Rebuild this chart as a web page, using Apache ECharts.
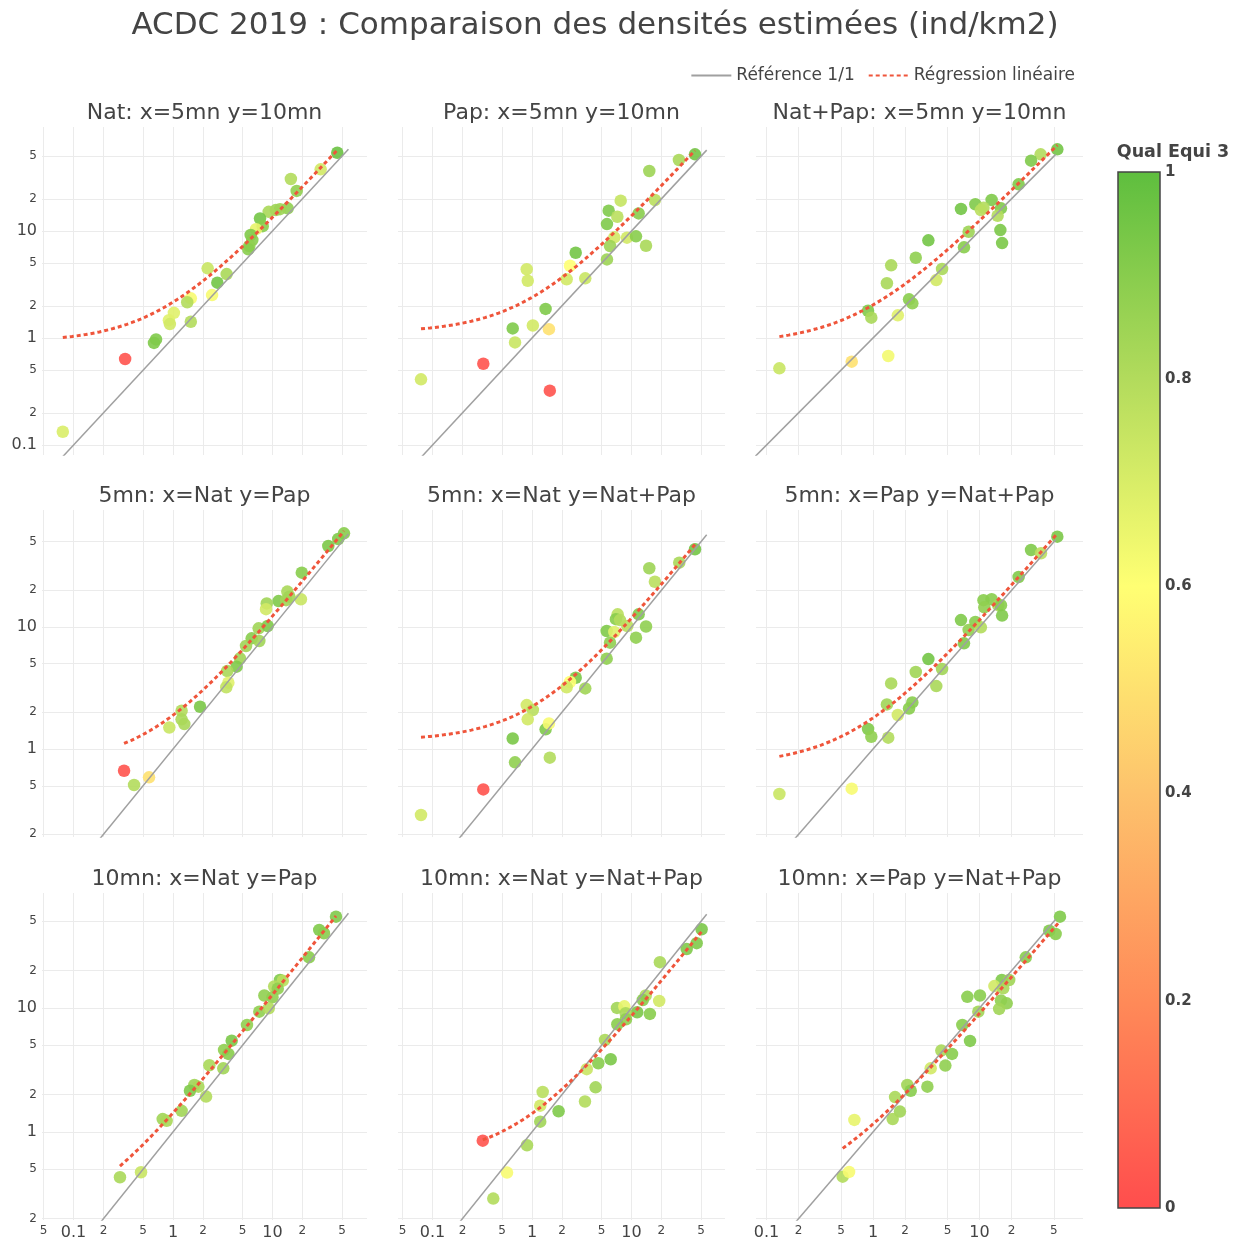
<!DOCTYPE html>
<html>
<head>
<meta charset="utf-8">
<script src="https://cdn.jsdelivr.net/npm/echarts@6/dist/echarts.min.js"></script>
<style>
  html, body { margin: 0; padding: 0; background: #fff; }
  #chart { width: 1243px; height: 1244px; }
</style>
</head>
<body>
<div id="chart"></div>
<script>
// ---- Data: estimated densities (ind/km2) and quality index per site ----

// Row 1: 5mn vs 10mn
const natX = [44.8, 30.5, 15.3, 17.5, 14.2, 11.9, 10.8, 9.16, 7.49, 7.97, 6.83, 6.04, 6.27, 5.85, 5.71, 2.23, 3.46, 2.79, 2.47, 1.51, 1.39, 1.02, 0.91, 0.93, 1.51, 0.675, 0.644, 0.33, 0.078];
const natY = [53.9, 37.7, 30.6, 23.7, 16.3, 16.0, 15.7, 15.1, 13.1, 11.1, 10.4, 9.18, 8.24, 7.24, 6.75, 4.48, 3.96, 3.29, 2.52, 2.35, 2.16, 1.72, 1.47, 1.35, 1.42, 0.97, 0.90, 0.637, 0.133];
const natQ = [0.97, 0.72, 0.80, 0.88, 0.88, 0.85, 0.85, 0.82, 0.95, 0.90, 0.66, 0.92, 0.90, 0.88, 0.90, 0.74, 0.82, 0.95, 0.62, 0.62, 0.80, 0.68, 0.68, 0.72, 0.80, 0.92, 0.92, 0.02, 0.70];

const papX = [43.5, 30.0, 15.1, 7.79, 17.2, 5.90, 7.21, 11.8, 5.67, 6.72, 9.01, 11.1, 14.0, 6.08, 5.67, 2.75, 2.41, 2.23, 3.43, 0.885, 0.906, 1.37, 1.02, 0.64, 1.48, 0.675, 0.324, 1.51, 0.0766];
const papY = [52.1, 46.1, 36.4, 19.2, 19.5, 15.5, 13.6, 14.6, 11.6, 8.73, 8.66, 8.92, 7.29, 7.24, 5.43, 6.27, 4.74, 3.54, 3.61, 4.39, 3.43, 1.87, 1.31, 1.23, 1.21, 0.91, 0.575, 0.322, 0.411];
const papQ = [0.95, 0.82, 0.85, 0.75, 0.78, 0.92, 0.78, 0.90, 0.92, 0.72, 0.72, 0.90, 0.82, 0.85, 0.85, 0.95, 0.60, 0.72, 0.74, 0.72, 0.72, 0.92, 0.72, 0.92, 0.50, 0.74, 0.02, 0.02, 0.72];

const bothX = [53.8, 37.5, 30.5, 23.3, 13.0, 9.14, 10.9, 10.3, 15.9, 14.8, 6.70, 7.91, 15.7, 16.3, 7.15, 3.31, 2.52, 1.48, 4.45, 1.35, 3.93, 2.18, 2.34, 0.898, 0.964, 1.71, 0.631, 1.39, 0.132];
const bothY = [58.0, 52.1, 45.4, 27.3, 19.5, 17.8, 16.5, 15.7, 16.3, 13.9, 16.1, 9.85, 10.2, 7.72, 7.04, 8.19, 5.63, 4.78, 4.42, 3.25, 3.48, 2.30, 2.11, 1.80, 1.55, 1.63, 0.601, 0.679, 0.521];
const bothQ = [0.95, 0.80, 0.92, 0.92, 0.92, 0.92, 0.80, 0.78, 0.92, 0.80, 0.95, 0.85, 0.93, 0.93, 0.90, 0.95, 0.88, 0.82, 0.82, 0.82, 0.72, 0.90, 0.88, 0.92, 0.82, 0.68, 0.50, 0.63, 0.74];

// Row 2: 5mn, protocols compared
const m5NatPapX = [52.3, 45.8, 36.4, 19.7, 19.3, 14.1, 14.8, 11.5, 13.7, 8.75, 8.61, 7.26, 8.94, 6.18, 7.37, 5.42, 4.71, 4.36, 3.51, 3.60, 3.43, 1.87, 1.22, 1.22, 1.30, 0.918, 0.322, 0.574, 0.406];
const m5NatPapY = [58.6, 52.6, 46.1, 27.9, 16.9, 19.5, 17.7, 16.3, 16.6, 15.6, 14.0, 9.75, 10.2, 8.08, 7.68, 6.99, 5.54, 4.73, 4.36, 3.50, 3.21, 2.22, 2.06, 1.75, 1.60, 1.50, 0.664, 0.586, 0.507];
const m5NatPapQ = [0.90, 0.92, 0.93, 0.90, 0.74, 0.82, 0.84, 0.92, 0.84, 0.84, 0.72, 0.84, 0.92, 0.90, 0.84, 0.84, 0.84, 0.92, 0.82, 0.68, 0.76, 0.93, 0.80, 0.82, 0.82, 0.74, 0.02, 0.50, 0.80];

const m5NatBothX = [43.5, 30.2, 15.1, 17.2, 11.8, 7.26, 6.98, 7.66, 9.08, 14.0, 5.63, 6.72, 11.1, 6.08, 5.63, 2.75, 2.41, 2.23, 3.43, 0.885, 1.02, 0.906, 1.37, 1.48, 0.64, 0.675, 1.51, 0.324, 0.0766];
const m5NatBothY = [43.4, 33.7, 30.3, 23.5, 12.7, 12.7, 11.6, 11.4, 10.2, 10.1, 9.27, 9.10, 8.18, 7.44, 5.50, 3.84, 3.54, 3.21, 3.14, 2.29, 2.09, 1.75, 1.45, 1.62, 1.22, 0.778, 0.849, 0.467, 0.288];
const m5NatBothQ = [0.95, 0.82, 0.85, 0.78, 0.92, 0.78, 0.90, 0.80, 0.78, 0.88, 0.92, 0.68, 0.88, 0.88, 0.88, 0.93, 0.60, 0.72, 0.84, 0.72, 0.78, 0.72, 0.92, 0.62, 0.93, 0.88, 0.80, 0.02, 0.72];

const m5PapBothX = [53.8, 30.5, 37.8, 23.3, 10.9, 13.0, 11.1, 15.0, 15.9, 16.3, 6.70, 9.14, 7.91, 10.3, 7.15, 3.31, 2.52, 4.45, 3.93, 1.48, 1.35, 2.34, 2.18, 1.71, 0.898, 0.964, 1.39, 0.631, 0.132];
const m5PapBothY = [55.0, 42.8, 40.2, 25.7, 16.6, 16.9, 14.5, 15.1, 15.1, 12.4, 11.4, 11.0, 9.45, 9.94, 7.35, 5.46, 4.28, 4.53, 3.28, 3.45, 2.32, 2.41, 2.15, 1.90, 1.46, 1.26, 1.24, 0.473, 0.428];
const m5PapBothQ = [0.93, 0.92, 0.78, 0.92, 0.90, 0.90, 0.88, 0.82, 0.90, 0.92, 0.92, 0.90, 0.88, 0.80, 0.92, 0.95, 0.84, 0.84, 0.82, 0.82, 0.84, 0.90, 0.90, 0.72, 0.92, 0.88, 0.80, 0.62, 0.74];

// Row 3: 10mn, protocols compared
const m10NatPapX = [43.5, 29.5, 32.9, 23.3, 11.9, 12.7, 10.4, 10.0, 8.28, 7.37, 9.16, 5.54, 3.89, 3.26, 3.60, 3.20, 2.32, 1.64, 1.80, 1.48, 2.15, 1.22, 0.787, 0.863, 0.477, 0.293, 11.3];
const m10NatPapY = [54.5, 42.6, 40.0, 25.6, 16.8, 16.6, 14.9, 12.2, 12.6, 9.34, 9.94, 7.29, 5.45, 4.59, 4.26, 3.26, 3.45, 2.39, 2.32, 2.15, 1.93, 1.48, 1.27, 1.23, 0.473, 0.431, 14.3];
const m10NatPapQ = [0.92, 0.92, 0.90, 0.90, 0.92, 0.78, 0.80, 0.88, 0.88, 0.88, 0.80, 0.88, 0.93, 0.88, 0.90, 0.84, 0.82, 0.84, 0.82, 0.92, 0.80, 0.84, 0.84, 0.82, 0.74, 0.82, 0.88];

const m10NatBothX = [50.7, 45.2, 35.9, 19.3, 19.0, 13.9, 13.0, 15.3, 11.4, 7.15, 8.47, 8.75, 8.81, 7.21, 5.42, 6.18, 4.64, 3.55, 4.36, 3.41, 1.28, 1.21, 1.85, 1.21, 0.891, 0.320, 0.561, 0.408];
const m10NatBothY = [43.1, 33.3, 29.9, 23.4, 11.4, 12.6, 11.6, 8.95, 9.23, 10.0, 10.3, 9.06, 8.11, 7.39, 5.52, 3.86, 3.58, 3.21, 2.29, 1.76, 2.10, 1.63, 1.47, 1.21, 0.781, 0.851, 0.470, 0.290];
const m10NatBothQ = [0.93, 0.92, 0.92, 0.82, 0.72, 0.80, 0.90, 0.90, 0.93, 0.84, 0.66, 0.82, 0.88, 0.90, 0.82, 0.93, 0.90, 0.74, 0.84, 0.80, 0.78, 0.72, 0.92, 0.84, 0.82, 0.02, 0.62, 0.80];

const m10PapBothX = [57.0, 45.2, 51.9, 27.2, 16.2, 19.0, 13.8, 16.7, 7.69, 10.1, 15.9, 18.0, 15.3, 9.75, 6.90, 8.15, 4.38, 5.52, 4.78, 3.48, 2.10, 2.26, 3.24, 1.61, 1.79, 1.53, 0.668, 0.519, 0.596];
const m10PapBothY = [54.5, 42.0, 39.5, 25.6, 16.8, 16.8, 15.0, 14.4, 12.3, 12.6, 11.5, 10.9, 9.82, 9.34, 7.29, 5.42, 4.53, 4.26, 3.43, 3.26, 2.39, 2.15, 2.32, 1.91, 1.46, 1.27, 1.25, 0.436, 0.476];
const m10PapBothQ = [0.92, 0.92, 0.90, 0.90, 0.92, 0.84, 0.72, 0.82, 0.90, 0.90, 0.88, 0.88, 0.84, 0.84, 0.90, 0.92, 0.82, 0.90, 0.88, 0.72, 0.84, 0.90, 0.88, 0.82, 0.84, 0.82, 0.66, 0.80, 0.62];

// Panel titles, row by row
const panelTitles = [
  'Nat: x=5mn y=10mn', 'Pap: x=5mn y=10mn', 'Nat+Pap: x=5mn y=10mn',
  '5mn: x=Nat y=Pap', '5mn: x=Nat y=Nat+Pap', '5mn: x=Pap y=Nat+Pap',
  '10mn: x=Nat y=Pap', '10mn: x=Nat y=Nat+Pap', '10mn: x=Pap y=Nat+Pap'
];
// Upper end of the 1:1 reference line in each panel (ind/km2)
const refLineMax = [58, 57, 52, 58, 57, 52, 58, 57, 52];
// Log-axis tick values (ind/km2)
const tickValues = [0.05, 0.1, 0.2, 0.5, 1, 2, 5, 10, 20, 50];
// Colour bar ticks
const qualTicks = [0, 0.2, 0.4, 0.6, 0.8, 1];
// Colour scale of "Qual Equi 3" sampled at the colour bar ticks
const qualColors = ['#ff4d4d', '#ff8a58', '#fdc26c', '#ffff73', '#b2db5c', '#5ebe3e'];

// ---- Layout ----
const FONT = "Verdana, 'DejaVu Sans', sans-serif";
const TXT = '#444';
const colLeft = [42, 398, 756], colWidth = [325, 327, 327];
const rowTop = [127, 510, 893], rowHeight = [328, 327, 327];
// axis extents in log10 units
const colRange = [[-1.317, 1.950], [-1.347, 1.940], [-1.099, 1.972]];
const rowRange = [[-1.093, 1.972], [-0.721, 1.959], [-0.710, 1.927]];

const panels = [
  [natX, natY, natQ], [papX, papY, papQ], [bothX, bothY, bothQ],
  [m5NatPapX, m5NatPapY, m5NatPapQ], [m5NatBothX, m5NatBothY, m5NatBothQ], [m5PapBothX, m5PapBothY, m5PapBothQ],
  [m10NatPapX, m10NatPapY, m10NatPapQ], [m10NatBothX, m10NatBothY, m10NatBothQ], [m10PapBothX, m10PapBothY, m10PapBothQ]
];

const lg = Math.log10;
const tickLogs = tickValues.map(lg);

// decades written in full, intermediate ticks as their leading digit
function tickLabel(v) {
  const k = Math.round(v);
  if (Math.abs(v - k) < 1e-6) {
    const val = Math.pow(10, k);
    return '{d|' + (k < 0 ? val.toFixed(-k) : String(val)) + '}';
  }
  const e = Math.floor(v + 1e-9);
  return '{m|' + Math.round(Math.pow(10, v - e)) + '}';
}
const labelRich = {
  d: { fontSize: 16, color: TXT, fontFamily: FONT },
  m: { fontSize: 12, color: TXT, fontFamily: FONT }
};

// ordinary least squares y = a*x + b
function linearFit(xs, ys) {
  const n = xs.length;
  const mx = xs.reduce((s, v) => s + v, 0) / n;
  const my = ys.reduce((s, v) => s + v, 0) / n;
  let sxy = 0, sxx = 0;
  for (let i = 0; i < n; i++) {
    sxy += (xs[i] - mx) * (ys[i] - my);
    sxx += (xs[i] - mx) * (xs[i] - mx);
  }
  const a = sxy / sxx;
  return { a: a, b: my - a * mx };
}

const grids = [], xAxes = [], yAxes = [], series = [], titles = [], scatterIdx = [];

panels.forEach((p, i) => {
  const row = Math.floor(i / 3), col = i % 3;
  const [xs, ys, qs] = p;
  grids.push({ left: colLeft[col], top: rowTop[row], width: colWidth[col], height: rowHeight[row] });
  xAxes.push({
    gridIndex: i, type: 'value', min: colRange[col][0], max: colRange[col][1],
    axisLine: { show: false },
    axisTick: { show: false, customValues: tickLogs },
    axisLabel: {
      show: row === 2, customValues: tickLogs, formatter: tickLabel, rich: labelRich,
      margin: 5, verticalAlign: 'top', hideOverlap: false
    },
    splitLine: { show: true, lineStyle: { color: '#ebebeb', width: 1 } }
  });
  yAxes.push({
    gridIndex: i, type: 'value', min: rowRange[row][0], max: rowRange[row][1],
    axisLine: { show: false },
    axisTick: { show: false, customValues: tickLogs },
    axisLabel: {
      show: col === 0, customValues: tickLogs, formatter: tickLabel, rich: labelRich,
      margin: 5, hideOverlap: false
    },
    splitLine: { show: true, lineStyle: { color: '#ebebeb', width: 1 } }
  });

  // 1:1 reference line
  series.push({
    name: 'Référence 1/1', type: 'line', xAxisIndex: i, yAxisIndex: i,
    data: [[lg(0.01), lg(0.01)], [lg(refLineMax[i]), lg(refLineMax[i])]],
    symbol: 'none', silent: true, clip: true,
    itemStyle: { color: '#a0a0a0' },
    lineStyle: { color: '#a0a0a0', width: 1.5 }
  });

  // linear regression y = a*x + b, drawn on log axes between the extreme x values
  const fit = linearFit(xs, ys);
  const xmin = Math.min.apply(null, xs), xmax = Math.max.apply(null, xs);
  const steps = 60, curve = [];
  for (let k = 0; k <= steps; k++) {
    const lx = lg(xmin) + (lg(xmax) - lg(xmin)) * k / steps;
    const x = Math.pow(10, lx);
    curve.push([lx, lg(fit.a * x + fit.b)]);
  }
  series.push({
    name: 'Régression linéaire', type: 'line', xAxisIndex: i, yAxisIndex: i,
    data: curve, symbol: 'none', silent: true, clip: true,
    itemStyle: { color: '#ef553b' },
    lineStyle: { color: '#ef553b', width: 3, type: [4, 3] }
  });

  scatterIdx.push(series.length);
  series.push({
    name: panelTitles[i], type: 'scatter', xAxisIndex: i, yAxisIndex: i,
    data: xs.map((x, k) => [lg(x), lg(ys[k]), qs[k]]),
    symbolSize: 12.5,
    itemStyle: { opacity: 0.9 }
  });

  titles.push({
    text: panelTitles[i],
    left: colLeft[col] + colWidth[col] / 2, top: rowTop[row] - 14,
    textAlign: 'center', textVerticalAlign: 'middle', padding: 0,
    textStyle: { fontSize: 22, fontWeight: 'normal', color: TXT, fontFamily: FONT }
  });
});

// colour bar: its own grid filled with the colour scale, with a right-hand axis
const CB = grids.length;
grids.push({
  left: 1118, top: 172, width: 42, height: 1036, show: true,
  borderColor: '#444', borderWidth: 1.5,
  backgroundColor: {
    type: 'linear', x: 0, y: 1, x2: 0, y2: 0,
    colorStops: qualColors.map((c, k) => ({ offset: qualTicks[k], color: c }))
  }
});
xAxes.push({ gridIndex: CB, type: 'value', min: 0, max: 1, show: false });
yAxes.push({
  gridIndex: CB, type: 'value', min: 0, max: 1, interval: 0.2, position: 'right',
  axisLine: { show: false }, axisTick: { show: false }, splitLine: { show: false },
  axisLabel: { color: TXT, fontSize: 15, fontWeight: 'bold', fontFamily: FONT, margin: 5 }
});

titles.push({
  text: 'ACDC 2019 : Comparaison des densités estimées (ind/km2)',
  left: 595, top: 26, textAlign: 'center', textVerticalAlign: 'middle', padding: 0,
  textStyle: { fontSize: 31, fontWeight: 'normal', color: TXT, fontFamily: FONT }
});
titles.push({
  text: 'Qual Equi 3',
  left: 1173, top: 152, textAlign: 'center', textVerticalAlign: 'middle', padding: 0,
  textStyle: { fontSize: 17.5, fontWeight: 'bold', color: TXT, fontFamily: FONT }
});

const chart = echarts.init(document.getElementById('chart'), null, { renderer: 'canvas' });
chart.setOption({
  animation: false,
  backgroundColor: '#fff',
  textStyle: { fontFamily: FONT },
  title: titles,
  legend: {
    data: ['Référence 1/1', 'Régression linéaire'],
    right: 163, top: 62, itemWidth: 40, itemHeight: 14, itemGap: 13,
    itemStyle: { opacity: 0 },
    textStyle: { fontSize: 17, color: TXT, fontFamily: FONT },
    selectedMode: false
  },
  visualMap: {
    type: 'continuous', show: false, min: 0, max: 1, dimension: 2,
    seriesIndex: scatterIdx,
    inRange: { color: qualColors }
  },
  grid: grids,
  xAxis: xAxes,
  yAxis: yAxes,
  series: series
});
</script>
</body>
</html>
